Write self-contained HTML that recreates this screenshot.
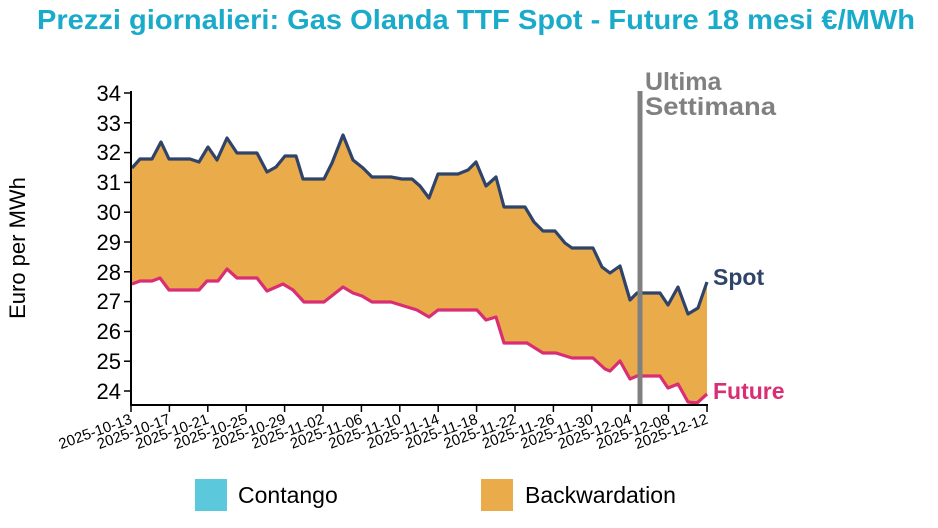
<!DOCTYPE html>
<html><head><meta charset="utf-8"><style>
body{margin:0;background:#fff;}
svg{display:block;font-family:"Liberation Sans",Arial,sans-serif;}
</style></head><body>
<svg width="938" height="528" viewBox="0 0 938 528">
<text x="476" y="29" text-anchor="middle" font-size="27.5" font-weight="bold" fill="#1aabcb" textLength="878" lengthAdjust="spacingAndGlyphs">Prezzi giornalieri: Gas Olanda TTF Spot - Future 18 mesi €/MWh</text>
<polygon fill="#eaab4b" points="132,168 140,159 152,159 161,142 169,159 190,159 199,162 208,147 217,160 227,138 237,153 257,153 267,172 276,167 285,156 296,156 303,179 324,179 332,163 343,135 353,160 363,168 372,177 391,177 402,179 412,179 420,186 429,198 438,174 458,174 468,170 476,162 486,186 496,177 504,207 525,207 534,222 543,231 555,231 565,243 572,248 593,248 602,267 610,273 620,266 630,300 637,293 660,293 668,305 678,287 688,314 698,308 707,282 707,394 697,403 688,402 678,384 668,388 660,376 637,376 630,379 620,361 610,371 605,369 593,358 572,358 556,353 543,353 527,343 504,343 496,317 486,320 477,310 438,310 429,317 417,310 391,302 372,302 362,296 353,293 343,287 324,302 304,302 293,290 283,284 267,291 257,278 237,278 227,269 218,281 207,281 199,290 169,290 160,278 152,281 140,281 132,284"/>
<polyline fill="none" stroke="#2f4468" stroke-width="3.2" stroke-linejoin="round" points="132,168 140,159 152,159 161,142 169,159 190,159 199,162 208,147 217,160 227,138 237,153 257,153 267,172 276,167 285,156 296,156 303,179 324,179 332,163 343,135 353,160 363,168 372,177 391,177 402,179 412,179 420,186 429,198 438,174 458,174 468,170 476,162 486,186 496,177 504,207 525,207 534,222 543,231 555,231 565,243 572,248 593,248 602,267 610,273 620,266 630,300 637,293 660,293 668,305 678,287 688,314 698,308 707,282"/>
<polyline fill="none" stroke="#d92e74" stroke-width="3.2" stroke-linejoin="round" points="132,284 140,281 152,281 160,278 169,290 199,290 207,281 218,281 227,269 237,278 257,278 267,291 283,284 293,290 304,302 324,302 343,287 353,293 362,296 372,302 391,302 417,310 429,317 438,310 477,310 486,320 496,317 504,343 527,343 543,353 556,353 572,358 593,358 605,369 610,371 620,361 630,379 637,376 660,376 668,388 678,384 688,402 697,403 707,394"/>
<line x1="640" y1="91" x2="640" y2="405" stroke="#808080" stroke-width="5"/>
<text x="645" y="90" font-size="25" font-weight="bold" fill="#808080">Ultima</text>
<text x="645" y="115" font-size="25" font-weight="bold" fill="#808080" textLength="131" lengthAdjust="spacingAndGlyphs">Settimana</text>
<text x="713" y="285" font-size="23" font-weight="bold" fill="#2f4468">Spot</text>
<text x="713" y="399" font-size="23" font-weight="bold" fill="#d92e74">Future</text>
<g stroke="#000" stroke-width="2">
<line x1="131" y1="91" x2="131" y2="406"/>
<line x1="130" y1="405" x2="708" y2="405"/>
</g>
<g stroke="#000" stroke-width="1.5">
<line x1="124" y1="391" x2="131" y2="391"/><line x1="124" y1="361.2" x2="131" y2="361.2"/><line x1="124" y1="331.4" x2="131" y2="331.4"/><line x1="124" y1="301.6" x2="131" y2="301.6"/><line x1="124" y1="271.8" x2="131" y2="271.8"/><line x1="124" y1="242" x2="131" y2="242"/><line x1="124" y1="212.2" x2="131" y2="212.2"/><line x1="124" y1="182.4" x2="131" y2="182.4"/><line x1="124" y1="152.6" x2="131" y2="152.6"/><line x1="124" y1="122.8" x2="131" y2="122.8"/><line x1="124" y1="93" x2="131" y2="93"/>
</g>
<g font-size="22" text-anchor="end" fill="#000">
<text x="121" y="399">24</text><text x="121" y="369">25</text><text x="121" y="339">26</text><text x="121" y="309">27</text><text x="121" y="280">28</text><text x="121" y="250">29</text><text x="121" y="220">30</text><text x="121" y="190">31</text><text x="121" y="160">32</text><text x="121" y="131">33</text><text x="121" y="101">34</text>
</g>
<text transform="translate(25,248) rotate(-90)" font-size="22" text-anchor="middle">Euro per MWh</text>
<g stroke="#000" stroke-width="1.5">
<line x1="131" y1="405" x2="131" y2="412"/><line x1="169.4" y1="405" x2="169.4" y2="412"/><line x1="207.8" y1="405" x2="207.8" y2="412"/><line x1="246.2" y1="405" x2="246.2" y2="412"/><line x1="284.6" y1="405" x2="284.6" y2="412"/><line x1="323" y1="405" x2="323" y2="412"/><line x1="361.4" y1="405" x2="361.4" y2="412"/><line x1="399.8" y1="405" x2="399.8" y2="412"/><line x1="438.2" y1="405" x2="438.2" y2="412"/><line x1="476.6" y1="405" x2="476.6" y2="412"/><line x1="515" y1="405" x2="515" y2="412"/><line x1="553.4" y1="405" x2="553.4" y2="412"/><line x1="591.8" y1="405" x2="591.8" y2="412"/><line x1="630.2" y1="405" x2="630.2" y2="412"/><line x1="668.6" y1="405" x2="668.6" y2="412"/><line x1="707" y1="405" x2="707" y2="412"/>
</g>
<g font-size="15" text-anchor="end" fill="#000">
<text transform="translate(133,423) rotate(-20)">2025-10-13</text>
<text transform="translate(171.4,423) rotate(-20)">2025-10-17</text>
<text transform="translate(209.8,423) rotate(-20)">2025-10-21</text>
<text transform="translate(248.2,423) rotate(-20)">2025-10-25</text>
<text transform="translate(286.6,423) rotate(-20)">2025-10-29</text>
<text transform="translate(325,423) rotate(-20)">2025-11-02</text>
<text transform="translate(363.4,423) rotate(-20)">2025-11-06</text>
<text transform="translate(401.8,423) rotate(-20)">2025-11-10</text>
<text transform="translate(440.2,423) rotate(-20)">2025-11-14</text>
<text transform="translate(478.6,423) rotate(-20)">2025-11-18</text>
<text transform="translate(517,423) rotate(-20)">2025-11-22</text>
<text transform="translate(555.4,423) rotate(-20)">2025-11-26</text>
<text transform="translate(593.8,423) rotate(-20)">2025-11-30</text>
<text transform="translate(632.2,423) rotate(-20)">2025-12-04</text>
<text transform="translate(670.6,423) rotate(-20)">2025-12-08</text>
<text transform="translate(709,423) rotate(-20)">2025-12-12</text>
</g>
<rect x="195" y="479" width="32" height="32" fill="#5bc8dc"/>
<text x="238" y="503" font-size="23">Contango</text>
<rect x="481" y="479" width="32" height="32" fill="#eaab4b"/>
<text x="525" y="503" font-size="23">Backwardation</text>
</svg>
</body></html>
